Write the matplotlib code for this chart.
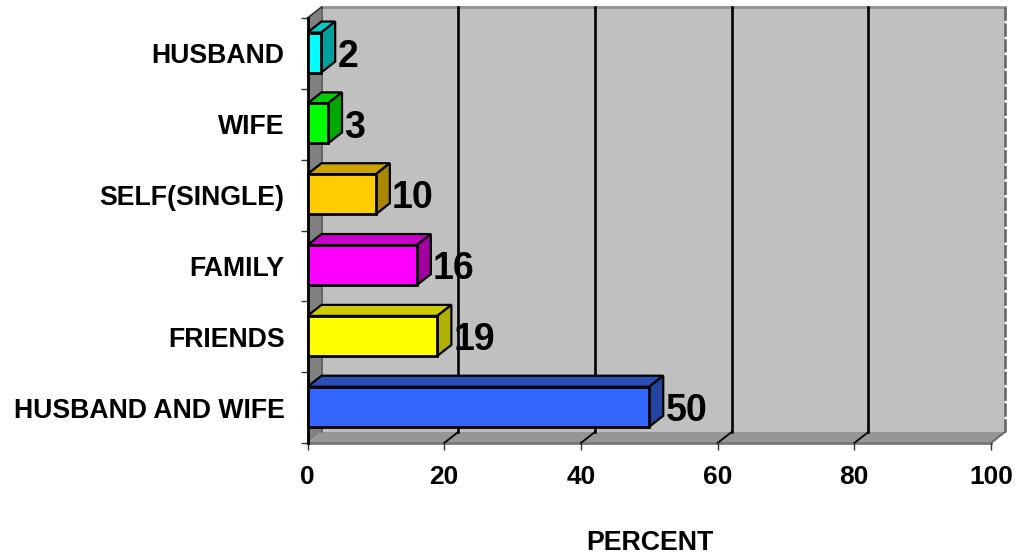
import matplotlib
matplotlib.use('Agg')
import matplotlib.pyplot as plt
from matplotlib.patches import Polygon, Rectangle
import numpy as np

plt.rcParams['font.family'] = ['Liberation Sans', 'DejaVu Sans']

categories = ['HUSBAND AND WIFE', 'FRIENDS', 'FAMILY', 'SELF(SINGLE)', 'WIFE', 'HUSBAND']
values = [50, 19, 16, 10, 3, 2]
front_colors = ['#3366ff', '#ffff00', '#ff00ff', '#ffcc00', '#00ff00', '#00ffff']
top_colors = ['#2850b8', '#cccc00', '#cc00cc', '#cca300', '#00cc00', '#00cccc']
side_colors = ['#2345a0', '#b0b000', '#a000a0', '#a88800', '#00a800', '#00a0a0']
x_ticks = [0, 20, 40, 60, 80, 100]

W, H = 1018, 556
X0, X1 = 307.5, 991
Y_TOP, Y_BOT = 18, 443

fig = plt.figure(figsize=(W / 100, H / 100), dpi=100)
ax = fig.add_axes([X0 / W, 1 - Y_BOT / H, (X1 - X0) / W, (Y_BOT - Y_TOP) / H])
ax.set_xlim(0, 100)
ax.set_ylim(0, len(categories))
ax.patch.set_visible(False)

# depth of the fake 3d box, in data units
dx = 14 / ((X1 - X0) / 100)
dy = 11 / ((Y_BOT - Y_TOP) / len(categories))
bar_h = 0.565
n = len(categories)


def poly(pts, fc, ec='none', lw=0, z=1):
    ax.add_patch(Polygon(pts, closed=True, facecolor=fc, edgecolor=ec, linewidth=lw,
                         zorder=z, clip_on=False, joinstyle='miter'))


# walls and floor
poly([(dx, dy), (100 + dx, dy), (100 + dx, n + dy), (dx, n + dy)], '#c0c0c0')
poly([(0, 0), (dx, dy), (dx, n + dy), (0, n)], '#808080', z=1.1)
poly([(0, 0), (100, 0), (100 + dx, dy), (dx, dy)], '#969696', z=1.1)
ax.plot([dx, 100 + dx], [n + dy, n + dy], color='#909090', lw=2, zorder=1.2, clip_on=False)
ax.plot([0, 100], [0, 0], color='#777777', lw=2, zorder=1.2, clip_on=False)
ax.plot([dx, dx], [dy, n + dy], color='#555555', lw=1.2, zorder=1.2, clip_on=False)
ax.plot([0, dx], [n, n + dy], color='#333333', lw=1.2, zorder=1.2, clip_on=False)

# grid lines, up the back wall and across the floor
for t in x_ticks:
    if t == 0:
        continue
    c = '#666666' if t == 100 else 'black'
    ls = (0, (5, 1)) if t == 100 else '-'
    ax.plot([t + dx, t + dx], [dy, n + dy], color=c, lw=1.9, ls=ls, zorder=1.3, clip_on=False)
    ax.plot([t, t + dx], [0, dy], color=c, lw=1.3, zorder=1.3, clip_on=False)

# bars
for i, v in enumerate(values):
    y0 = i + (1 - bar_h) / 2 + 0.012
    y1 = y0 + bar_h
    poly([(0, y1), (v, y1), (v + dx, y1 + dy), (dx, y1 + dy)], top_colors[i], 'black', 1.6, 3)
    poly([(v, y0), (v + dx, y0 + dy), (v + dx, y1 + dy), (v, y1)], side_colors[i], 'black', 1.6, 3)
    ax.add_patch(Rectangle((0, y0), v, bar_h, facecolor=front_colors[i], edgecolor='black',
                           linewidth=2, zorder=4, clip_on=False))
    ax.annotate(str(v), (v + dx, (y0 + y1) / 2), xytext=(1.5, -3), textcoords='offset points',
                fontsize=27, fontweight='bold', va='center', ha='left', zorder=5)

ax.set_xticks(x_ticks)
ax.set_xticklabels(x_ticks, fontsize=19, fontweight='bold')
ax.tick_params(axis='x', length=5, width=1, color='#333333', pad=10.5)
ax.set_yticks(np.arange(n + 1))
ax.set_yticklabels([])
ax.set_yticks(np.arange(n) + 0.5, labels=categories, minor=True)
ax.tick_params(axis='y', which='major', length=5, width=1, color='#333333')
ax.tick_params(axis='y', which='minor', length=0, pad=16.5, labelsize=19.2)
for lab in ax.get_yticklabels(minor=True):
    lab.set_fontweight('bold')

for s in ['top', 'right', 'bottom']:
    ax.spines[s].set_visible(False)
ax.spines['left'].set_linewidth(2)
ax.spines['left'].set_zorder(2)

fig.text(650 / W, 1 - 543 / H, 'PERCENT', fontsize=19.3, fontweight='bold', ha='center', va='center')

fig.savefig('out.png', dpi=100)
